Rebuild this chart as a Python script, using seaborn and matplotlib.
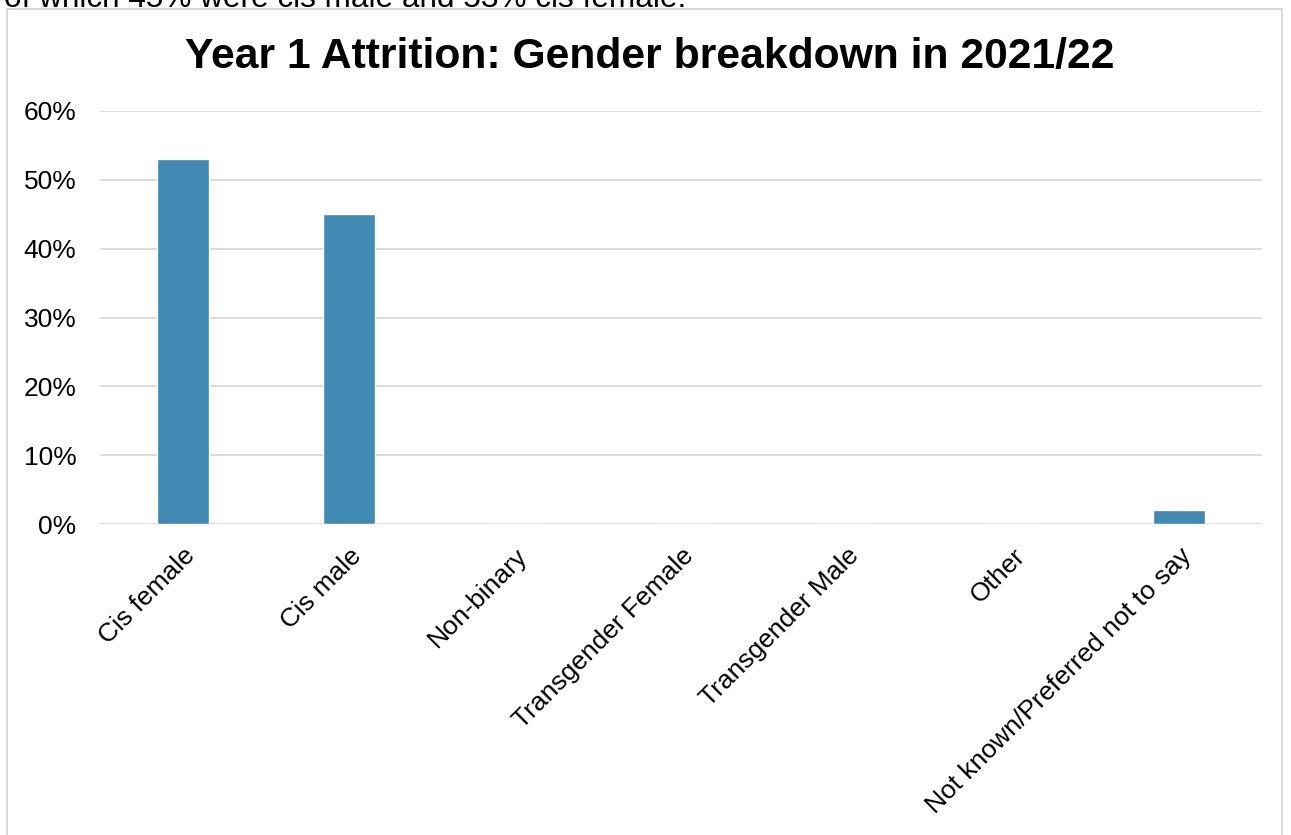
import matplotlib
matplotlib.use("Agg")
import matplotlib.pyplot as plt
import matplotlib.patches as mpatches
from matplotlib.ticker import PercentFormatter
import seaborn as sns
import pandas as pd

categories = ["Cis female", "Cis male", "Non-binary", "Transgender Female",
              "Transgender Male", "Other", "Not known/Preferred not to say"]
shares = [0.53, 0.45, 0.0, 0.0, 0.0, 0.0, 0.02]
y_ticks = [0.0, 0.1, 0.2, 0.3, 0.4, 0.5, 0.6]

title = "Year 1 Attrition: Gender breakdown in 2021/22"
lead_in = "of which 45% were cis male and 53% cis female."

sns.set_theme(style="white")
plt.rcParams["font.family"] = ["Liberation Sans", "DejaVu Sans"]

df = pd.DataFrame({"gender": categories, "share": shares})

fig = plt.figure(figsize=(12.91, 8.35), dpi=100)
W, H = 1291, 835
ax = fig.add_axes([100 / W, 1 - 524 / H, (1262 - 100) / W, (524 - 111) / H])

sns.barplot(data=df, x="gender", y="share", color="#418AB3", saturation=1,
            width=0.313, ax=ax)

ax.set_ylim(0, 0.6)
ax.set_yticks(y_ticks)
ax.yaxis.set_major_formatter(PercentFormatter(1.0, decimals=0))
ax.grid(axis="y", color="#D9D9D9", linewidth=1.3)
ax.set_axisbelow(True)
for s in ax.spines.values():
    s.set_visible(False)
ax.set_xlabel("")
ax.set_ylabel("")
ax.tick_params(axis="y", labelsize=19, colors="black", length=0, pad=17)
ax.tick_params(axis="x", labelsize=19, colors="black", length=0, pad=14)
plt.setp(ax.get_xticklabels(), rotation=45, ha="right", rotation_mode="anchor")

# chart frame
frame = mpatches.Rectangle((7 / W, -0.05), (1282 - 7) / W, 1 - 9 / H + 0.05,
                           transform=fig.transFigure, fill=False,
                           edgecolor="#D9D9D9", linewidth=1.5)
fig.patches.append(frame)

fig.text(650 / W, 1 - 57 / H, title, ha="center", va="center",
         fontsize=30.7, fontweight="bold", color="black")
fig.text(4 / W, 1 - 7 / H, lead_in, ha="left", va="baseline",
         fontsize=22.7, color="black")

fig.savefig("out.png", dpi=100)
